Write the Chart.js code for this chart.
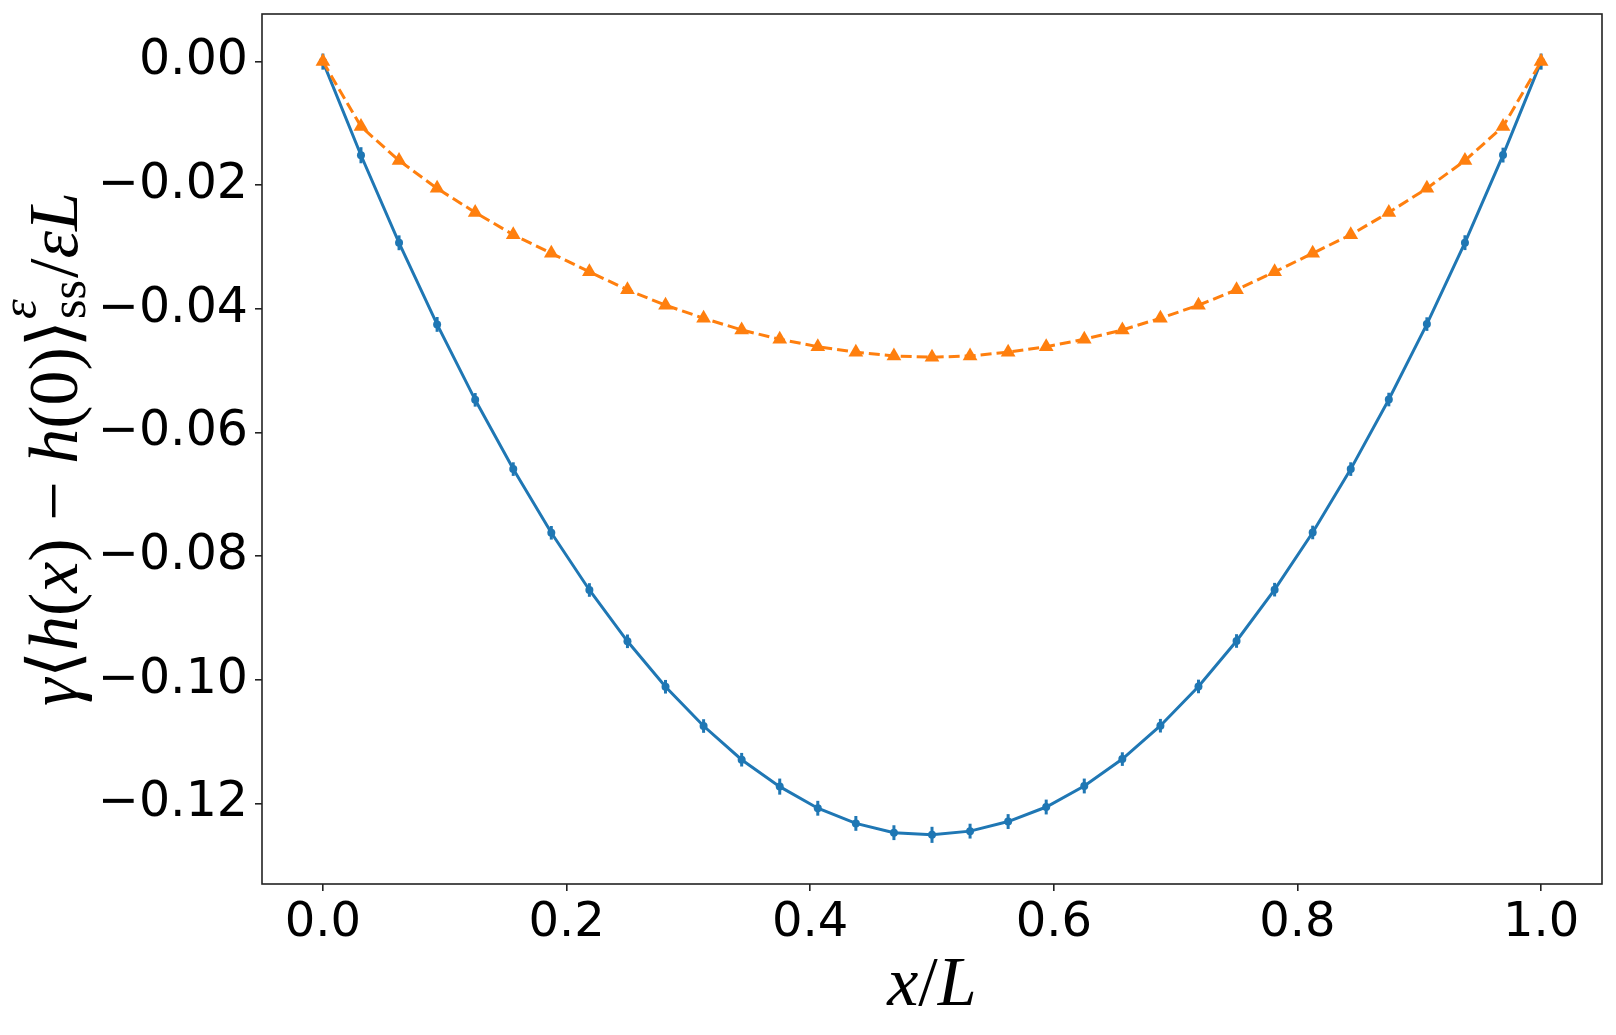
<!DOCTYPE html>
<html><head><meta charset="utf-8">
<script src="https://cdn.jsdelivr.net/npm/chart.js@4"></script>
<style>html,body{margin:0;padding:0;background:#fff;}#wrap{width:1616px;height:1035px;}canvas{display:block;}</style>
</head><body><div id="wrap"><canvas id="c" width="1616" height="1035" style="width:1616px;height:1035px"></canvas></div>
<script>
const xPositions = [0, 0.03125, 0.0625, 0.09375, 0.125, 0.15625, 0.1875, 0.21875, 0.25, 0.28125, 0.3125, 0.34375, 0.375, 0.40625, 0.4375, 0.46875, 0.5, 0.53125, 0.5625, 0.59375, 0.625, 0.65625, 0.6875, 0.71875, 0.75, 0.78125, 0.8125, 0.84375, 0.875, 0.90625, 0.9375, 0.96875, 1.0];
const blueValues = [0, -0.01514, -0.02930, -0.04250, -0.05470, -0.06590, -0.07620, -0.08545, -0.09375, -0.10110, -0.10745, -0.11290, -0.11725, -0.12075, -0.12320, -0.12470, -0.12505, -0.12445, -0.12290, -0.12055, -0.11715, -0.11280, -0.10740, -0.10105, -0.09370, -0.08540, -0.07615, -0.06590, -0.05465, -0.04245, -0.02928, -0.01512, 0];
const blueErrors = [0.0013, 0.0013, 0.0012, 0.0012, 0.0011, 0.0011, 0.0011, 0.0011, 0.0011, 0.0011, 0.0011, 0.0011, 0.0013, 0.0012, 0.0012, 0.0012, 0.0013, 0.0012, 0.0012, 0.0012, 0.0012, 0.0011, 0.0011, 0.0011, 0.0011, 0.0011, 0.0011, 0.0011, 0.0011, 0.0011, 0.0012, 0.0012, 0.0013];
const orangeValues = [0, -0.0105, -0.0160, -0.0205, -0.0244, -0.0280, -0.0310, -0.0340, -0.0369, -0.0394, -0.0415, -0.0434, -0.0449, -0.0461, -0.0470, -0.0476, -0.0478, -0.0476, -0.0470, -0.0461, -0.0449, -0.0434, -0.0415, -0.0394, -0.0369, -0.0340, -0.0310, -0.0280, -0.0244, -0.0205, -0.0160, -0.0105, 0];
const xTickValues = [0, 0.2, 0.4, 0.6, 0.8, 1.0];
const yTickValues = [0, -0.02, -0.04, -0.06, -0.08, -0.10, -0.12];

const BLUE = '#1f77b4', ORANGE = '#ff7f0e', AXIS = '#222';

const errorBarPlugin = {
  id: 'errbars',
  afterDatasetDraw(chart, args) {
    if (args.index !== 0) return;
    const ctx = chart.ctx, xs = chart.scales.x, ys = chart.scales.y;
    ctx.save();
    ctx.strokeStyle = BLUE; ctx.lineWidth = 3;
    xPositions.forEach((xv, i) => {
      const px = xs.getPixelForValue(xv);
      ctx.beginPath();
      ctx.moveTo(px, ys.getPixelForValue(blueValues[i] + blueErrors[i]));
      ctx.lineTo(px, ys.getPixelForValue(blueValues[i] - blueErrors[i]));
      ctx.stroke();
    });
    ctx.restore();
  }
};

function drawPieces(ctx, parts, cx, baseY) {
  let W = 0;
  parts.forEach(p => {
    if (p.script) {
      ctx.font = p.sup.f; const a = ctx.measureText(p.sup.t).width;
      ctx.font = p.sub.f; const b = ctx.measureText(p.sub.t).width;
      p.w = Math.max(a, b) + 3;
    } else { ctx.font = p.f; p.w = ctx.measureText(p.t).width + (p.pad || 0); }
    W += p.w;
  });
  let x = cx - W / 2;
  ctx.textBaseline = 'alphabetic'; ctx.textAlign = 'left'; ctx.fillStyle = '#000';
  parts.forEach(p => {
    if (p.script) {
      ctx.font = p.sup.f; ctx.fillText(p.sup.t, x + 1, baseY - p.sup.dy);
      ctx.font = p.sub.f; ctx.fillText(p.sub.t, x + 1, baseY + p.sub.dy);
    } else { ctx.font = p.f; ctx.fillText(p.t, x, baseY); }
    x += p.w;
  });
}

const labelPlugin = {
  id: 'labels',
  afterDraw(chart) {
    const ctx = chart.ctx, ca = chart.chartArea;
    ctx.save();
    ctx.strokeStyle = AXIS; ctx.lineWidth = 1.6;
    ctx.strokeRect(ca.left, ca.top, ca.right - ca.left, ca.bottom - ca.top);
    const S = 70, s = 50;
    const it = z => `italic ${z}px "Liberation Serif", "DejaVu Serif", serif`;
    const up = z => `${z}px "Liberation Serif", "DejaVu Serif", serif`;
    // x label
    drawPieces(ctx, [{t:'x', f:it(70)}, {t:'/', f:up(70)}, {t:'L', f:it(70)}], (ca.left + ca.right) / 2, 1005);
    // y label
    ctx.translate(77, (ca.top + ca.bottom) / 2);
    ctx.rotate(-Math.PI / 2);
    drawPieces(ctx, [
      {t:'γ', f:it(S)}, {t:'⟨', f:up(S)}, {t:'h', f:it(S)}, {t:'(', f:up(S)}, {t:'x', f:it(S)}, {t:')', f:up(S)},
      {t:' − ', f:up(S)}, {t:'h', f:it(S)}, {t:'(0)', f:up(S)}, {t:'⟩', f:up(S)},
      {script:true, sup:{t:'ε', f:it(s), dy:41}, sub:{t:'ss', f:up(s), dy:8}},
      {t:'/', f:up(S)}, {t:'ε', f:it(S)}, {t:'L', f:it(S)}
    ], 0, 0);
    ctx.restore();
  }
};

const fmtMinus = (v, d) => { const a = Math.abs(v) < 1e-12 ? 0 : v; return a.toFixed(d).replace('-', '\u2212'); };

new Chart(document.getElementById('c'), {
  type: 'line',
  data: {
    datasets: [
      { data: xPositions.map((x, i) => ({x, y: blueValues[i]})), borderColor: BLUE, backgroundColor: BLUE,
        borderWidth: 3, pointRadius: 4, pointStyle: 'circle', pointBorderWidth: 0, tension: 0, order: 1 },
      { data: xPositions.map((x, i) => ({x, y: orangeValues[i]})), borderColor: ORANGE, backgroundColor: ORANGE,
        borderWidth: 3, borderDash: [11, 5], pointRadius: 8.5, pointStyle: 'triangle', pointBorderWidth: 0, tension: 0, order: 0 }
    ]
  },
  options: {
    responsive: false, animation: false, devicePixelRatio: 1,
    layout: { padding: { top: 14, right: 14, left: 0, bottom: 0 } },
    plugins: { legend: { display: false }, tooltip: { enabled: false } },
    scales: {
      x: {
        type: 'linear', min: -0.05, max: 1.05,
        afterBuildTicks: sc => { sc.ticks = xTickValues.map(v => ({value: v})); },
        afterFit: sc => { sc.height = 151; sc.paddingLeft = 0; sc.paddingRight = 0; },
        grid: { drawOnChartArea: false, drawTicks: true, tickLength: 7, color: AXIS, lineWidth: 1.6 },
        border: { display: false },
        ticks: { color: '#000', font: { family: 'DejaVu Sans', size: 48 }, padding: 4, maxRotation: 0,
                 callback: v => fmtMinus(v, 1) }
      },
      y: {
        type: 'linear', min: -0.133, max: 0.0077,
        afterBuildTicks: sc => { sc.ticks = yTickValues.map(v => ({value: v})); },
        afterFit: sc => { sc.width = 262; sc.paddingTop = 0; sc.paddingBottom = 0; },
        grid: { drawOnChartArea: false, drawTicks: true, tickLength: 7, color: AXIS, lineWidth: 1.6 },
        border: { display: false },
        ticks: { color: '#000', font: { family: 'DejaVu Sans', size: 49 }, padding: 7,
                 callback: v => fmtMinus(v, 2) }
      }
    }
  },
  plugins: [errorBarPlugin, labelPlugin]
});
</script></body></html>
